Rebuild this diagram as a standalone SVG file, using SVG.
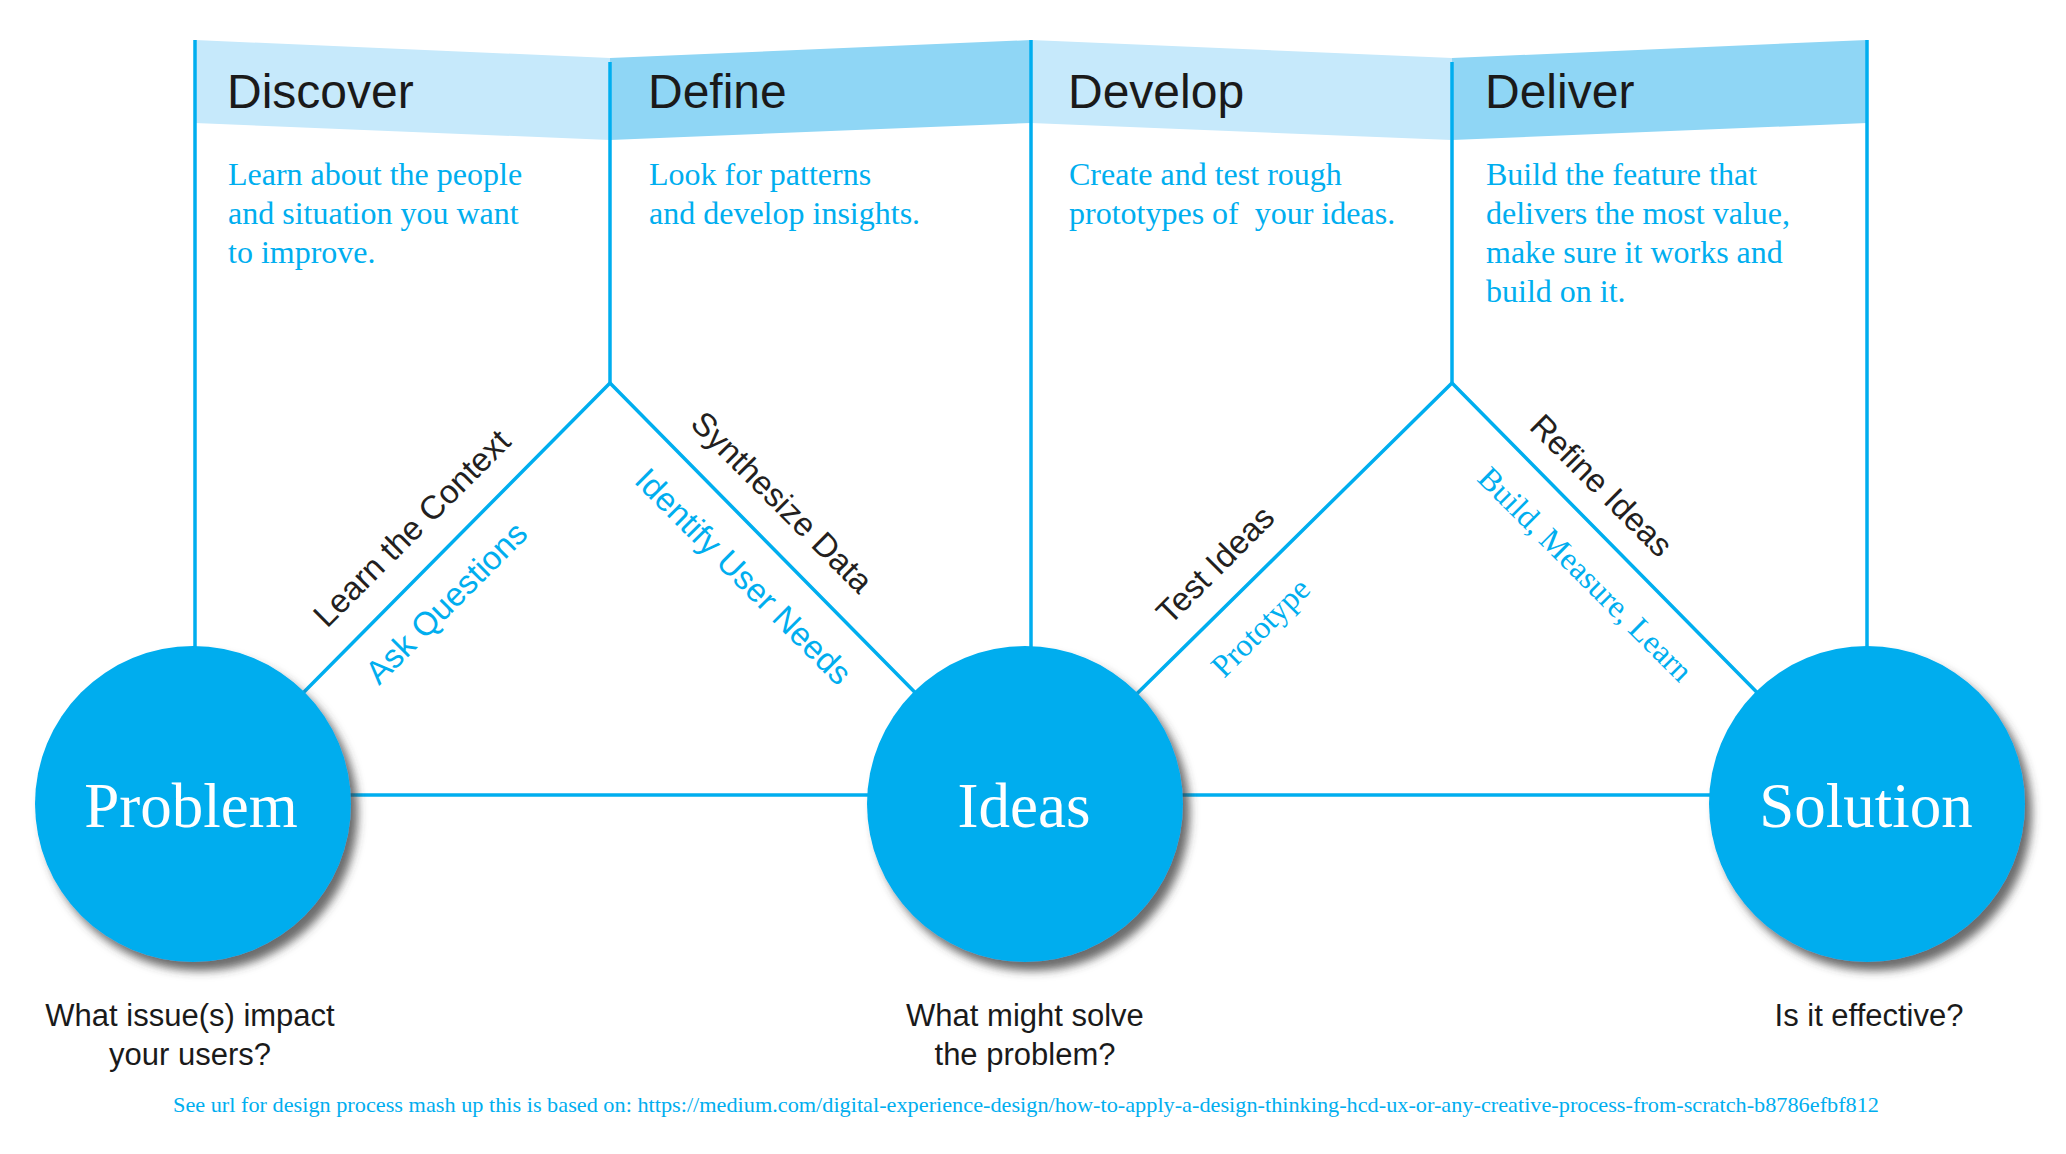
<svg xmlns="http://www.w3.org/2000/svg" width="2066" height="1154" viewBox="0 0 2066 1154">
  <defs>
    <filter id="shadow" x="-20%" y="-20%" width="150%" height="150%">
      <feDropShadow dx="7" dy="9" stdDeviation="5" flood-color="#3a3a3a" flood-opacity="0.75"/>
    </filter>
    <style>
      .band-light { fill: #c6e9fb; }
      .band-dark { fill: #8fd6f5; }
      .rule { stroke: #00aeef; stroke-width: 3.5; fill: none; }
      .phase { font-family: "Liberation Sans", Arial, sans-serif; font-size: 48px; fill: #1a1a1a; }
      .desc { font-family: "Liberation Serif", "Times New Roman", serif; font-size: 32px; fill: #00aeef; }
      .step { font-family: "Liberation Sans", Arial, sans-serif; font-size: 33px; fill: #231f20; }
      .step-alt { font-family: "Liberation Sans", Arial, sans-serif; font-size: 33px; fill: #00aeef; }
      .step-serif { font-family: "Liberation Serif", "Times New Roman", serif; font-size: 32px; fill: #00aeef; }
      .hub { fill: #00adee; filter: url(#shadow); }
      .hub-label { font-family: "Liberation Serif", "Times New Roman", serif; font-size: 63px; fill: #ffffff; text-anchor: middle; }
      .question { font-family: "Liberation Sans", Arial, sans-serif; font-size: 31px; fill: #1a1a1a; text-anchor: middle; }
      .source { font-family: "Liberation Serif", "Times New Roman", serif; font-size: 22px; fill: #00aeef; }
    </style>
  </defs>

  <rect width="2066" height="1154" fill="#ffffff"/>

  <!-- header bands -->
  <g id="bands">
    <polygon class="band-light" points="195,40 610,58 610,140 195,123"/>
    <polygon class="band-dark" points="610,58 1031,40 1031,123 610,140"/>
    <polygon class="band-light" points="1031,40 1452,58 1452,140 1031,123"/>
    <polygon class="band-dark" points="1452,58 1867,40 1867,123 1452,140"/>
  </g>

  <!-- connectors -->
  <g id="connectors">
    <line class="rule" x1="193" y1="795" x2="1867" y2="795"/>
    <line class="rule" x1="195" y1="40" x2="195" y2="660"/>
    <line class="rule" x1="610" y1="62" x2="610" y2="383"/>
    <line class="rule" x1="1031" y1="40" x2="1031" y2="660"/>
    <line class="rule" x1="1452" y1="62" x2="1452" y2="383"/>
    <line class="rule" x1="1867" y1="40" x2="1867" y2="660"/>
    <polyline class="rule" points="193,804 610,383 1025,804"/>
    <polyline class="rule" points="1025,804 1452,383 1867,804"/>
  </g>

  <!-- phases -->
  <g id="phase-discover">
    <text class="phase" x="227" y="108">Discover</text>
    <text class="desc" x="228" y="185">Learn about the people</text>
    <text class="desc" x="228" y="224">and situation you want</text>
    <text class="desc" x="228" y="263">to improve.</text>
  </g>
  <g id="phase-define">
    <text class="phase" x="648" y="108">Define</text>
    <text class="desc" x="649" y="185">Look for patterns</text>
    <text class="desc" x="649" y="224">and develop insights.</text>
  </g>
  <g id="phase-develop">
    <text class="phase" x="1068" y="108">Develop</text>
    <text class="desc" x="1069" y="185">Create and test rough</text>
    <text class="desc" x="1069" y="224" xml:space="preserve">prototypes of  your ideas.</text>
  </g>
  <g id="phase-deliver">
    <text class="phase" x="1485" y="108">Deliver</text>
    <text class="desc" x="1486" y="185">Build the feature that</text>
    <text class="desc" x="1486" y="224">delivers the most value,</text>
    <text class="desc" x="1486" y="263">make sure it works and</text>
    <text class="desc" x="1486" y="302">build on it.</text>
  </g>

  <!-- activities along the diamond edges -->
  <g id="step-learn">
    <text class="step" transform="translate(327 629) rotate(-45)">Learn the Context</text>
    <text class="step-alt" transform="translate(379 686) rotate(-45)">Ask Questions</text>
  </g>
  <g id="step-synthesize">
    <text class="step" transform="translate(689 425) rotate(45)">Synthesize Data</text>
    <text class="step-alt" transform="translate(633 482) rotate(45)">Identify User Needs</text>
  </g>
  <g id="step-test">
    <text class="step" transform="translate(1170 626) rotate(-45)">Test Ideas</text>
    <text class="step-serif" transform="translate(1224 679) rotate(-45)">Prototype</text>
  </g>
  <g id="step-refine">
    <text class="step" transform="translate(1528 428) rotate(45)">Refine Ideas</text>
    <text class="step-serif" transform="translate(1476 480) rotate(45)">Build, Measure, Learn</text>
  </g>

  <!-- hubs -->
  <g id="node-problem">
    <circle class="hub" cx="193" cy="804" r="158"/>
    <text class="hub-label" x="191" y="827">Problem</text>
    <text class="question" x="190" y="1026">What issue(s) impact</text>
    <text class="question" x="190" y="1065">your users?</text>
  </g>
  <g id="node-ideas">
    <circle class="hub" cx="1025" cy="804" r="158"/>
    <text class="hub-label" x="1024" y="827">Ideas</text>
    <text class="question" x="1025" y="1026">What might solve</text>
    <text class="question" x="1025" y="1065">the problem?</text>
  </g>
  <g id="node-solution">
    <circle class="hub" cx="1867" cy="804" r="158"/>
    <text class="hub-label" x="1866" y="827">Solution</text>
    <text class="question" x="1869" y="1026">Is it effective?</text>
  </g>

  <!-- source note -->
  <text class="source" x="173" y="1112" textLength="1706" lengthAdjust="spacingAndGlyphs">See url for design process mash up this is based on: https://medium.com/digital-experience-design/how-to-apply-a-design-thinking-hcd-ux-or-any-creative-process-from-scratch-b8786efbf812</text>
</svg>
